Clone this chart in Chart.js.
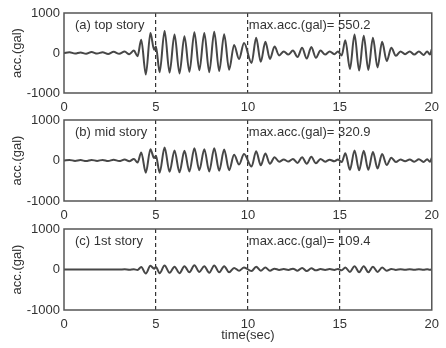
<!DOCTYPE html>
<html>
<head>
<meta charset="utf-8">
<script src="https://cdn.jsdelivr.net/npm/chart.js@4.4.1/dist/chart.umd.min.js"></script>
<style>
  html, body { margin: 0; padding: 0; background: #fff; }
  #wrap { position: relative; width: 446px; height: 348px; }
  #wrap canvas { position: absolute; left: 0; top: 0; }
</style>
</head>
<body>
<div id="wrap">
  <canvas id="topStory" width="446" height="348"></canvas>
  <canvas id="midStory" width="446" height="348"></canvas>
  <canvas id="firstStory" width="446" height="348"></canvas>
</div>
<script>
// sample times (sec) of the peaks/troughs
const timeSec = [
  0.0, 0.3, 0.6, 0.9, 1.2, 1.5, 1.8, 2.1, 2.4, 2.7,
  3.0, 3.3, 3.55, 3.8, 4.0, 4.2, 4.45, 4.7, 4.9, 5.0,
  5.2, 5.47, 5.74, 6.01, 6.28, 6.55, 6.82, 7.09, 7.36,
  7.63, 7.9, 8.17, 8.44, 8.71, 8.98, 9.25, 9.52, 9.79,
  10.2, 10.45, 10.7, 10.95, 11.2, 11.45, 11.7, 11.95, 12.2, 12.45,
  12.7, 12.95, 13.2, 13.45, 13.7, 13.95, 14.2, 14.45, 14.7, 14.9,
  15.1, 15.3, 15.55, 15.8, 16.05, 16.3, 16.55, 16.8, 17.05, 17.3,
  17.55, 17.8, 18.05, 18.3, 18.55, 18.8, 19.05, 19.3, 19.55, 19.75,
  19.9, 20.0
];

// acceleration (gal)
const topAcc = [
  0, 20, -15, 15, -20, 25, -15, 20, -25, 30,
  -20, 35, -30, 60, -80, 330, -540, 500, 80, 160,
  -480, 550, -490, 460, -510, 420, -470, 520, -430,
  500, -480, 530, -450, 470, -420, 200, -150, 250,
  -250, 380, -220, 280, -150, 160, -60, 40, -40, 60,
  -100, 130, -140, 150, -120, 60, -40, 40, -30, 40,
  -60, 320, -400, 460, -440, 430, -420, 380, -360, 280,
  -200, 130, -70, 40, -30, 40, -40, 40, -50, 40,
  -40, 90
];
const midAcc = [
  0, 15, -10, 10, -15, 15, -10, 15, -15, 20,
  -15, 25, -20, 40, -50, 200, -300, 280, 60, 120,
  -300, 320, -280, 250, -290, 240, -270, 300, -240,
  280, -270, 300, -250, 270, -240, 140, -100, 160,
  -150, 230, -120, 170, -80, 80, -30, 25, -25, 40,
  -60, 80, -80, 90, -70, 40, -30, 20, -20, 25,
  -40, 180, -230, 250, -240, 240, -230, 210, -200, 160,
  -110, 70, -40, 25, -20, 25, -30, 30, -35, 30,
  -30, 60
];
const firstAcc = [
  0, 3, -3, 3, -3, 3, -3, 3, -3, 3,
  -3, 4, -4, 5, -10, 60, -100, 90, 20, 60,
  -90, 100, -80, 70, -90, 80, -70, 105, -60,
  80, -80, 100, -70, 80, -70, 40, -30, 50,
  -40, 70, -30, 50, -30, 20, -10, 10, -10, 20,
  -30, 40, -40, 30, -20, 10, -10, 10, -10, 15,
  -20, 50, -60, 80, -70, 80, -70, 70, -60, 50,
  -30, 15, -10, 5, -5, 5, -5, 5, -5, 5,
  -5, 5
];

const panelLabels = ['(a) top story', '(b) mid story', '(c) 1st story'];
const maxAcc = ['550.2', '320.9', '109.4'];
const xTicks = [0, 5, 10, 15, 20];
const yTicks = [-1000, 0, 1000];

const FONT = '"Liberation Sans", Arial, sans-serif';
Chart.defaults.font.family = FONT;
Chart.defaults.font.size = 13;
Chart.defaults.color = '#333';

// box around the plot + the two text notes
const framePlugin = {
  id: 'frame',
  afterDraw(chart, args, opts) {
    const { ctx, chartArea: a, scales } = chart;
    ctx.save();
    ctx.strokeStyle = '#555';
    ctx.lineWidth = 1.5;
    ctx.strokeRect(a.left, a.top, a.right - a.left, a.bottom - a.top);
    ctx.fillStyle = '#333';
    ctx.font = '13px ' + FONT;
    ctx.textBaseline = 'middle';
    const ty = scales.y.getPixelForValue(700);
    ctx.fillText(opts.label, scales.x.getPixelForValue(0.6), ty);
    ctx.fillText('max.acc.(gal)= ' + opts.maxText, scales.x.getPixelForValue(10.05), ty);
    ctx.restore();
  }
};

function makePanel(id, values, i, plotTop, plotBottom, xAxisH, withTitle) {
  const pts = timeSec.map((t, k) => ({ x: t, y: values[k] }));
  return new Chart(document.getElementById(id), {
    type: 'line',
    data: {
      datasets: [{
        data: pts,
        borderColor: '#474747',
        borderWidth: 2,
        pointRadius: 0,
        cubicInterpolationMode: 'monotone',
        fill: false
      }]
    },
    options: {
      responsive: false,
      animation: false,
      events: [],
      layout: { padding: { left: 0, right: 10, top: plotTop, bottom: 348 - plotBottom - xAxisH } },
      plugins: {
        legend: { display: false },
        tooltip: { enabled: false },
        frame: { label: panelLabels[i], maxText: maxAcc[i] }
      },
      scales: {
        x: {
          type: 'linear',
          min: 0, max: 20,
          afterBuildTicks: s => { s.ticks = xTicks.map(v => ({ value: v })); },
          afterFit: s => { s.height = xAxisH; },
          ticks: { padding: 7, maxRotation: 0, autoSkip: false, color: '#333' },
          grid: {
            drawTicks: false,
            lineWidth: 1.2,
            color: c => (c.tick && (c.tick.value === 0 || c.tick.value === 20)) ? 'rgba(0,0,0,0)' : '#333'
          },
          border: { display: false, dash: [4, 3] },
          title: withTitle
            ? { display: true, text: 'time(sec)', color: '#333', font: { size: 13 }, padding: { top: 0, bottom: 5 } }
            : { display: false }
        },
        y: {
          min: -1000, max: 1000,
          afterBuildTicks: s => { s.ticks = yTicks.map(v => ({ value: v })); },
          afterFit: s => { s.width = 64; },
          ticks: { padding: 4, color: '#333', callback: v => String(v) },
          grid: { display: false, drawTicks: false },
          border: { display: false },
          title: { display: true, text: 'acc.(gal)', color: '#333', font: { size: 13 }, padding: { top: 10, bottom: 0 } }
        }
      }
    },
    plugins: [framePlugin]
  });
}

makePanel('topStory', topAcc, 0, 13, 93, 22, false);
makePanel('midStory', midAcc, 1, 120, 201, 22, false);
makePanel('firstStory', firstAcc, 2, 229, 310, 38, true);
</script>
</body>
</html>
